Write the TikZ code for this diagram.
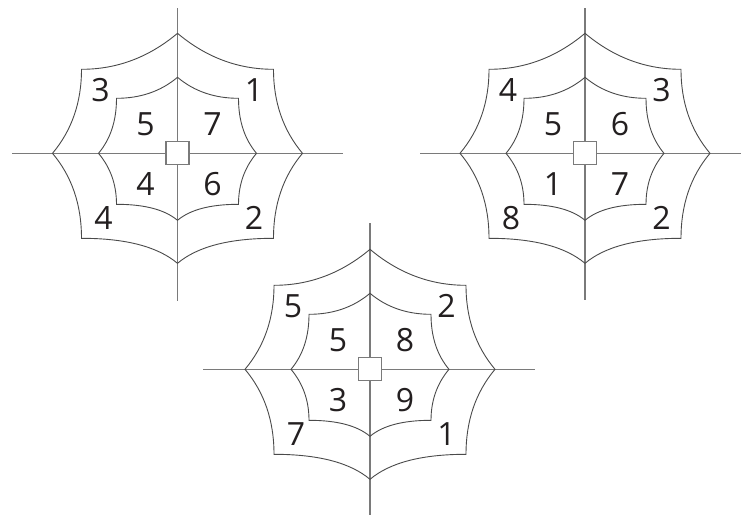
\documentclass[tikz,border=0pt]{standalone}
\usepackage{fontspec}
\setmainfont{Open Sans}
\usetikzlibrary{calc}
\definecolor{axisgray}{HTML}{7A7A7A}
\definecolor{webgray}{HTML}{4A4A4A}
\definecolor{digit}{HTML}{231F20}
\tikzset{
  axisline/.style={draw=axisgray, line width=1.3pt},
  webline/.style={draw=webgray, line width=0.9pt},
  hubbox/.style={draw=axisgray, fill=white, line width=1.2pt, minimum size=23pt, inner sep=0pt},
  num/.style={text=digit, font=\fontsize{32}{36}\selectfont, inner sep=0pt},
}
% #1 top, #2 bottom, #3 side, #4 corner x, #5 top corner y, #6 bottom corner y
\newcommand\webring[6]{%
  \pgfmathsetmacro\wht{(#1-#5)*1.19}%
  \pgfmathsetmacro\whb{(#2-#6)*1.19}%
  \pgfmathsetmacro\wvs{(#3-#4)*1.19}%
  \draw[webline] (0,-#1)
   .. controls ($(0,-#1)!.667!(\wht,-#5)$) and ($(#4,-#5)!.667!(\wht,-#5)$) .. (#4,-#5)
   .. controls ($(#4,-#5)!.667!(#4,-\wvs)$) and ($(#3,0)!.667!(#4,-\wvs)$) .. (#3,0)
   .. controls ($(#3,0)!.667!(#4,\wvs)$) and ($(#4,#6)!.667!(#4,\wvs)$) .. (#4,#6)
   .. controls ($(#4,#6)!.667!(\whb,#6)$) and ($(0,#2)!.667!(\whb,#6)$) .. (0,#2)
   .. controls ($(0,#2)!.667!(-\whb,#6)$) and ($(-#4,#6)!.667!(-\whb,#6)$) .. (-#4,#6)
   .. controls ($(-#4,#6)!.667!(-#4,\wvs)$) and ($(-#3,0)!.667!(-#4,\wvs)$) .. (-#3,0)
   .. controls ($(-#3,0)!.667!(-#4,-\wvs)$) and ($(-#4,-#5)!.667!(-#4,-\wvs)$) .. (-#4,-#5)
   .. controls ($(-#4,-#5)!.667!(-\wht,-#5)$) and ($(0,-#1)!.667!(-\wht,-#5)$) .. (0,-#1);
}
% #1 name prefix, #2 left, #3 right, #4 top, #5 bottom extents of axes
\newcommand\webbody[5]{%
  \coordinate (#1L) at (-#2,0); \coordinate (#1R) at (#3,0);
  \coordinate (#1T) at (0,-#4); \coordinate (#1B) at (0,#5);
  \draw[axisline] (#1L) -- (#1R);
  \draw[axisline] (#1T) -- (#1B);
  \webring{120}{110}{125}{96}{84}{85}
  \webring{76}{67}{79}{61}{55}{51}
  \node[hubbox] (#1hub) at (0,0) {};
}
% #1 prefix, #2..#5 outer TL TR BL BR, #6..#9 inner TL TR BL BR
\newcommand\weblabels[9]{%
  \node[num] (#1o1) at (-77,-63) {#2};
  \node[num] (#1o2) at (76.5,-63) {#3};
  \node[num] (#1o3) at (-74,64.5) {#4};
  \node[num] (#1o4) at (76.5,64.5) {#5};
  \node[num] (#1i1) at (-32,-29.3) {#6};
  \node[num] (#1i2) at (35,-29.3) {#7};
  \node[num] (#1i3) at (-32,31) {#8};
  \node[num] (#1i4) at (35,31) {#9};
}
\begin{document}
\begin{tikzpicture}[x=1pt,y=-1pt]
  \fill[white] (0,0) rectangle (741,517);
  \useasboundingbox (0,0) rectangle (741,517);
  \begin{scope}[shift={(177.5,153.3)}]
    \webbody{a}{165.5}{165.5}{145}{148}
    \weblabels{a}{3}{1}{4}{2}{5}{7}{4}{6}
  \end{scope}
  \begin{scope}[shift={(585,153.3)}]
    \webbody{b}{165}{160}{145}{147}
    \weblabels{b}{4}{3}{8}{2}{5}{6}{1}{7}
  \end{scope}
  \begin{scope}[shift={(370,369.3)}]
    \webbody{c}{167}{165}{146}{146}
    \weblabels{c}{5}{2}{7}{1}{5}{8}{3}{9}
  \end{scope}
\end{tikzpicture}
\end{document}
